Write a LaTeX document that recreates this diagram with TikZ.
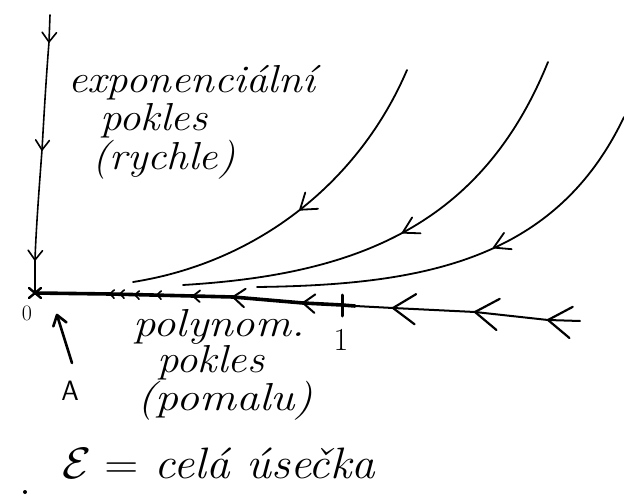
\RequirePackage{fix-cm}
\documentclass[tikz,border=0pt]{standalone}
\newcommand{\vtip}[5][]{\draw[#1] (#2) ++({#3+180+#5}:#4) -- (#2) -- ++({#3+180-#5}:#4);}
\newcommand{\wide}[2]{\scalebox{#1}[1]{#2}}
\begin{document}
\begin{tikzpicture}[x=1pt,y=-1pt,line cap=round,line join=round,
  hand/.style={font=\fontsize{39}{42}\selectfont\itshape,inner sep=0pt,anchor=base west},
  axisline/.style={line width=1.6},
  thickline/.style={line width=3.6},
  curveline/.style={line width=1.8}]
\useasboundingbox (0,0) rectangle (624,497);
% coordinates
\coordinate (top) at (50,15);
\coordinate (v1) at (49,42);
\coordinate (v2) at (42,150);
\coordinate (v3) at (35,260);
\coordinate (O) at (35,293);
\coordinate (one) at (342,305);
\coordinate (hend) at (580,321);
% vertical axis
\draw[axisline] (top) -- (v1) .. controls (46,80) and (44,115) .. (v2) .. controls (39,190) and (36,230) .. (v3) -- (O);
\vtip[axisline]{v1}{92}{12}{37}
\vtip[axisline]{v2}{93}{12}{35}
\vtip[axisline]{v3}{92}{12}{37}
% horizontal axis
\draw[thickline] (O) -- (110,294) -- (193,296) -- (233,297) -- (303,303) -- (one) -- (355,306);
\draw[line width=2] (355,306) -- (393,308) -- (475,312) -- (548,320) -- (hend);
\draw[line width=3] (342,295) -- (342,316);
\draw[line width=2.4] (29,288) -- (41,298) (29,298) -- (41,288);
\foreach \xx/\yy in {110/294,120/294,135/295,157/295}{\vtip[line width=1.6]{\xx,\yy}{181}{6}{45}}
\vtip[line width=1.8]{193,296}{182}{9}{40}
\vtip[line width=2]{233,297}{185}{15}{38}
\vtip[line width=2]{303,303}{183}{15}{38}
\vtip[line width=2.2]{393,308}{183}{27}{34}
\vtip[line width=2.2]{475,312}{186}{28}{34}
\vtip[line width=2.2]{548,320}{186}{28}{34}
% curves
\coordinate (c1t) at (407,70);  \coordinate (c1b) at (133,282);
\coordinate (c2t) at (548,62);  \coordinate (c2b) at (183,285);
\coordinate (c3t) at (624,117); \coordinate (c3b) at (257,287);
\draw[curveline] (c1t) .. controls (360,180) and (260,262) .. (c1b);
\draw[curveline] (c2t) .. controls (480,230) and (350,275) .. (c2b);
\draw[curveline] (c3t) .. controls (555,262) and (420,285) .. (c3b);
\vtip[curveline]{300,209.75}{142}{18}{35}
\vtip[curveline]{402.6,232.7}{152}{18}{30}
\vtip[curveline]{493.7,247.6}{155}{18}{30}
% arrow to A
\coordinate (atail) at (72,363);
\coordinate (ahead) at (57,315);
\draw[line width=2.6] (atail) -- (ahead);
\vtip[line width=2.6]{ahead}{253}{12}{35}
% labels
\node[font=\fontsize{22}{24}\selectfont] (zero) at (27,313) {0};
\node[font=\fontsize{32}{34}\selectfont] (onelab) at (341,340) {1};
\node[font=\fontsize{28}{30}\selectfont\sffamily] (Alab) at (70,391) {A};
\node[hand] (t1) at (68,93) {\wide{1.1}{exponenciální}};
\node[hand] (t2) at (100,131) {\wide{1.1}{pokles}};
\node[hand] (t3) at (92,170) {\wide{1.1}{(rychle)}};
\node[hand] (t4) at (133,336) {\wide{1.15}{polynom.}};
\node[hand] (t5) at (157,372) {\wide{1.1}{pokles}};
\node[hand] (t6) at (137,410) {\wide{1.18}{(pomalu)}};
\node[hand,font=\fontsize{44}{46}\selectfont\itshape] (t7) at (62,478) {\wide{1.07}{$\mathcal{E}=$ celá úsečka}};
\fill (25,492) circle (2);
\end{tikzpicture}
\end{document}
